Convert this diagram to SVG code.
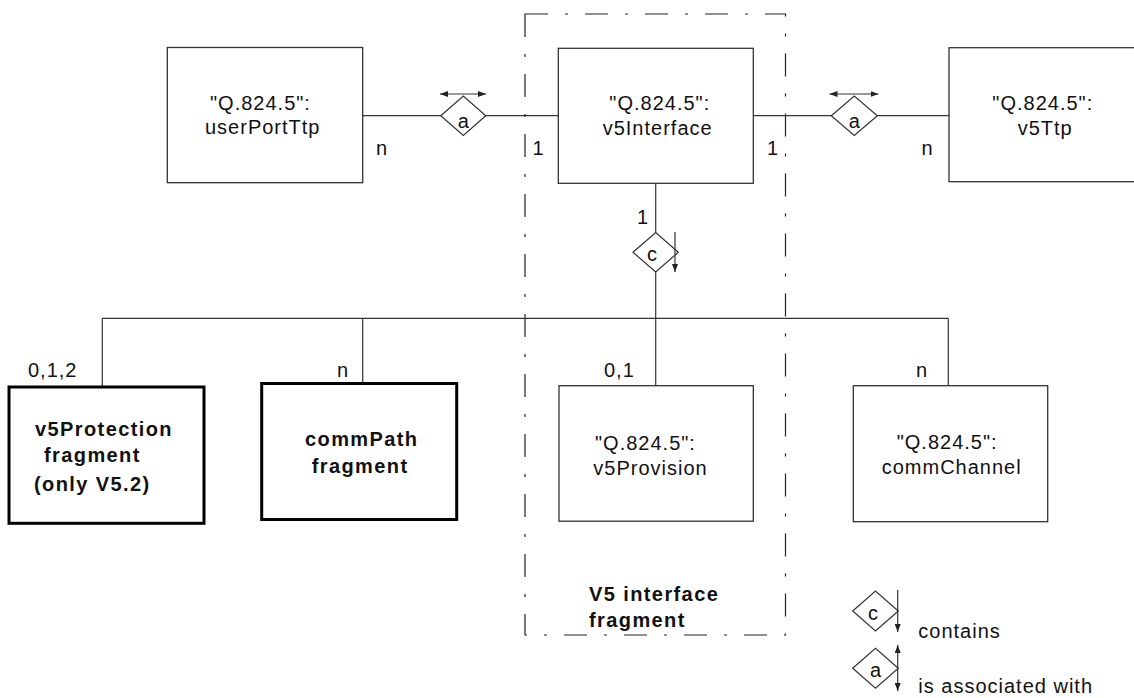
<svg xmlns="http://www.w3.org/2000/svg" width="1134" height="698" viewBox="0 0 1134 698">
<style>
text{font-family:"Liberation Sans",Arial,sans-serif;font-size:20px;letter-spacing:1px;fill:#111}
.b{font-weight:bold;letter-spacing:1.4px}
.box{fill:#fff;stroke:#333;stroke-width:1.3}
.thick{fill:#fff;stroke:#000;stroke-width:3}
.ln{fill:none;stroke:#333;stroke-width:1.2}
.dia{fill:#fff;stroke:#333;stroke-width:1.2}
.arr{fill:none;stroke:#333;stroke-width:1.2;marker-end:url(#ah)}
.arr2{fill:none;stroke:#333;stroke-width:1.2;marker-start:url(#ah);marker-end:url(#ah)}
.frame{fill:none;stroke:#222;stroke-width:1.2;stroke-dasharray:23 17 3 17}
.lt{letter-spacing:0}
</style>
<defs>
<marker id="ah" viewBox="0 0 8 6" refX="8" refY="3" markerWidth="8" markerHeight="6" markerUnits="userSpaceOnUse" orient="auto-start-reverse">
<path d="M0,0 L8,3 L0,6 z" fill="#222"/>
</marker>
</defs>
<rect width="1134" height="698" fill="#fff"/>

<g id="v5-interface-fragment">
<rect class="frame" x="525" y="14" width="260.5" height="621"/>
<text class="b" x="589" y="601">V5 interface</text>
<text class="b" x="589" y="627">fragment</text>
</g>

<g id="connectors">
<line class="ln" x1="362.7" y1="115.7" x2="558.3" y2="115.7"/>
<line class="ln" x1="753.3" y1="115.7" x2="949" y2="115.7"/>
<line class="ln" x1="655.7" y1="183" x2="655.7" y2="386"/>
<line class="ln" x1="102.3" y1="318.3" x2="948.3" y2="318.3"/>
<line class="ln" x1="102.3" y1="318.3" x2="102.3" y2="387"/>
<line class="ln" x1="362.7" y1="318.3" x2="362.7" y2="383.5"/>
<line class="ln" x1="948.3" y1="318.3" x2="948.3" y2="386"/>
<text x="376" y="155">n</text>
<text x="532.5" y="155">1</text>
<text x="767" y="155">1</text>
<text x="921.5" y="155">n</text>
<text x="637" y="224">1</text>
<text x="28" y="377">0,1,2</text>
<text x="337" y="377">n</text>
<text x="604" y="377">0,1</text>
<text x="916" y="377">n</text>
</g>

<g id="rel-a-left">
<polygon class="dia" points="440.8,115.7 463.3,96 485.8,115.7 463.3,135.4"/>
<text class="lt" x="463.3" y="128" text-anchor="middle">a</text>
<line class="arr2" x1="440" y1="94" x2="486" y2="94"/>
</g>
<g id="rel-a-right">
<polygon class="dia" points="831.3,115.7 854.3,96 877.3,115.7 854.3,135.4"/>
<text class="lt" x="854.3" y="128" text-anchor="middle">a</text>
<line class="arr2" x1="829.5" y1="94" x2="878.5" y2="94"/>
</g>
<g id="rel-c">
<polygon class="dia" points="633,252.3 655.7,232.5 678.3,252.3 655.7,272"/>
<text class="lt" x="652" y="261" text-anchor="middle">c</text>
<line class="arr" x1="675" y1="232" x2="675" y2="272"/>
</g>

<g id="userPortTtp">
<rect class="box" x="167.3" y="47.5" width="195.4" height="135.2"/>
<text x="210" y="110">"Q.824.5":</text>
<text x="205" y="134">userPortTtp</text>
</g>
<g id="v5Interface">
<rect class="box" x="558.3" y="48.3" width="195" height="135"/>
<text x="609.3" y="110">"Q.824.5":</text>
<text x="602.7" y="135">v5Interface</text>
</g>
<g id="v5Ttp">
<rect class="box" x="949" y="47.7" width="200" height="134"/>
<text x="992.3" y="110">"Q.824.5":</text>
<text x="1017.7" y="135">v5Ttp</text>
</g>
<g id="v5Protection">
<rect class="thick" x="9" y="387" width="195" height="136.3"/>
<text class="b" x="35" y="436">v5Protection</text>
<text class="b" x="44" y="462">fragment</text>
<text class="b" x="34" y="491">(only V5.2)</text>
</g>
<g id="commPath">
<rect class="thick" x="261.7" y="383.5" width="195" height="136"/>
<text class="b" x="305" y="446">commPath</text>
<text class="b" x="311.7" y="473.3">fragment</text>
</g>
<g id="v5Provision">
<rect class="box" x="559" y="385.7" width="194.3" height="135.5"/>
<text x="595" y="450">"Q.824.5":</text>
<text x="593.3" y="475">v5Provision</text>
</g>
<g id="commChannel">
<rect class="box" x="853.3" y="385.7" width="194.4" height="136"/>
<text x="896.7" y="449">"Q.824.5":</text>
<text x="881.7" y="474">commChannel</text>
</g>

<g id="legend">
<polygon class="dia" points="852.7,611 875.5,591 898.3,611 875.5,631"/>
<text class="lt" x="873" y="620" text-anchor="middle">c</text>
<line class="arr" x1="897.7" y1="590" x2="897.7" y2="632"/>
<text x="918.3" y="638.3">contains</text>
<polygon class="dia" points="852.7,668.3 875.5,648.3 898.3,668.3 875.5,688.3"/>
<text class="lt" x="875.5" y="677" text-anchor="middle">a</text>
<line class="arr2" x1="897.7" y1="645" x2="897.7" y2="691"/>
<text x="918.3" y="693">is associated with</text>
</g>
</svg>
